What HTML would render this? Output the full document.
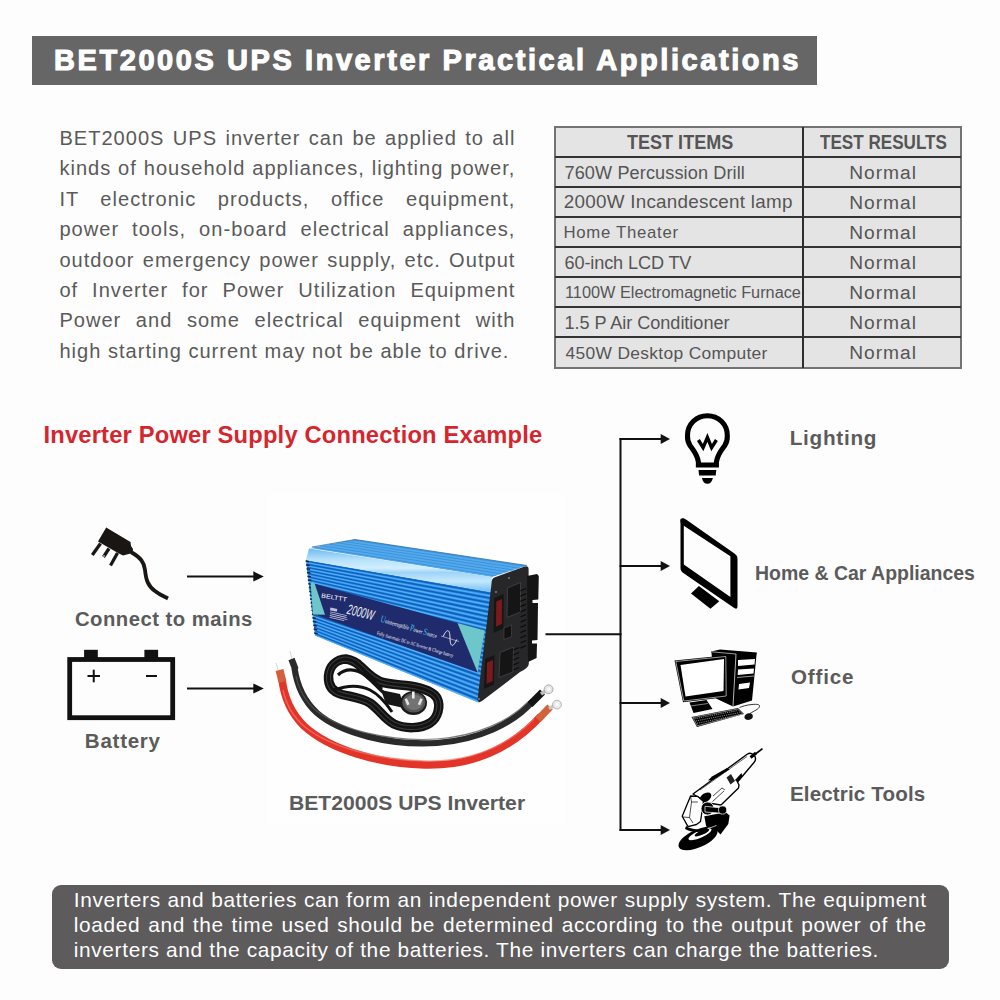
<!DOCTYPE html>
<html><head><meta charset="utf-8"><style>
html,body{margin:0;padding:0;}
body{width:1000px;height:1000px;position:relative;overflow:hidden;background:#fdfdfd;font-family:"Liberation Sans", sans-serif;}
.t{position:absolute;white-space:nowrap;line-height:1;}
.j{position:absolute;white-space:nowrap;line-height:1;text-align:justify;}
svg{position:absolute;left:0;top:0;}
</style></head><body>
<svg width="1000" height="1000" viewBox="0 0 1000 1000">
<rect x="266" y="494" width="300" height="330" fill="#fefefe"/>
<line x1="187" y1="576.4" x2="254.3" y2="576.4" stroke="#111" stroke-width="2"/><polygon points="253.3,571.3 263.8,576.4 253.3,581.5" fill="#111"/>
<line x1="187" y1="688.5" x2="254.3" y2="688.5" stroke="#111" stroke-width="2"/><polygon points="253.3,683.4 263.8,688.5 253.3,693.6" fill="#111"/>
<line x1="545.5" y1="634.3" x2="621.5" y2="634.3" stroke="#111" stroke-width="2"/>
<line x1="620.5" y1="438.1" x2="620.5" y2="831" stroke="#111" stroke-width="2"/>
<line x1="619.5" y1="439.1" x2="661.7" y2="439.1" stroke="#111" stroke-width="2"/><polygon points="660.7,434.1 670,439.1 660.7,444.1" fill="#111"/>
<line x1="619.5" y1="566.0" x2="661.7" y2="566.0" stroke="#111" stroke-width="2"/><polygon points="660.7,561.0 670,566.0 660.7,571.0" fill="#111"/>
<line x1="619.5" y1="703.1" x2="661.7" y2="703.1" stroke="#111" stroke-width="2"/><polygon points="660.7,698.1 670,703.1 660.7,708.1" fill="#111"/>
<line x1="619.5" y1="830.0" x2="661.7" y2="830.0" stroke="#111" stroke-width="2"/><polygon points="660.7,825.0 670,830.0 660.7,835.0" fill="#111"/>
<g fill="#1a1614"><polygon points="106.2,527.5 130.5,542 131,546 133,549 132.5,553 123,555.5 118,553 98,541.5"/></g><g stroke="#1a1614" stroke-width="3.3" stroke-linecap="butt" fill="none"><line x1="100.5" y1="543.5" x2="92.3" y2="555"/><line x1="109" y1="548.5" x2="103.5" y2="557"/><line x1="117.5" y1="553" x2="110.5" y2="565.5"/></g><path d="M131,552 C141,558 144,562 145,570 C146,580 148,586 155,591 C160,595 163,596 168,598.5" stroke="#1a1614" stroke-width="3.8" fill="none"/><circle cx="104" cy="556" r="0.8" fill="#fff"/>
<g fill="#111"><rect x="84.1" y="649.8" width="13.7" height="9"/><rect x="144.4" y="649.8" width="13.7" height="9"/></g><rect x="69.7" y="659.5" width="103" height="58.2" fill="none" stroke="#111" stroke-width="4.8"/><g stroke="#111" stroke-width="2"><line x1="87.5" y1="676" x2="100" y2="676"/><line x1="93.75" y1="669.7" x2="93.75" y2="682.3"/><line x1="146" y1="676" x2="157" y2="676"/></g>
<g fill="none" stroke="#000" stroke-width="5.1"><path d="M698.4,465 L698.4,462 C697.5,455 694,451 690,445.5 C687,441 687.5,436 687.5,435.5 C687.5,424 696.5,415.7 707.4,415.7 C718.3,415.7 727.3,424 727.3,435.5 C727.3,436 727.8,441 724.8,445.5 C720.8,451 717.3,455 716.4,462 L716.4,465 Z"/></g><path d="M698.4,440 L703.1,447.6 L707.4,437.5 L711.6,447.6 L716.4,440" fill="none" stroke="#000" stroke-width="3.4" stroke-linejoin="miter"/><polygon points="698.5,470 716.3,470 715.7,475.5 699.1,475.5" fill="#000"/><path d="M701.9,478 L712.9,478 C712,482 710,483.8 707.4,483.8 C704.8,483.8 702.8,482 701.9,478 Z" fill="#000"/>
<path fill-rule="evenodd" fill="#000" d="M681.5,518.4 C679.5,519 680.5,522 680.5,524 L680.5,568 C680.5,571 682,572 684,573.5 L733.5,607.5 C735.5,609 737.5,609.5 737.5,606 L737.5,559 C737.5,556 736.5,555 733,552.5 L686,519.5 C684,518.2 683,518 681.5,518.4 Z M683.8,525.7 L730.4,556.2 L730.4,597.1 L683.8,564.6 Z"/><polygon points="691,593.5 698.9,586.1 719.3,601.3 710.4,608.7" fill="#000"/>
<defs><linearGradient id="band" x1="0" y1="0" x2="0" y2="1"><stop offset="0" stop-color="#6db9f2"/><stop offset="0.25" stop-color="#b5e0fb"/><stop offset="0.45" stop-color="#d2efff"/><stop offset="0.55" stop-color="#9fd3f7"/><stop offset="0.75" stop-color="#c4e8fd"/><stop offset="1" stop-color="#72bdf3"/></linearGradient></defs>
<polygon points="310.0,548.0 355.0,539.5 527.0,565.5 492.0,577.0" fill="#55aaeb"/>
<polygon points="353.5,539.8 525.8,565.9 523.8,566.6 350.9,540.3" fill="#3b92de"/>
<polygon points="346.0,541.2 520.0,567.8 518.0,568.5 343.4,541.7" fill="#3b92de"/>
<polygon points="338.5,542.6 514.2,569.7 512.1,570.4 335.9,543.1" fill="#3b92de"/>
<polygon points="331.0,544.0 508.3,571.6 506.3,572.3 328.4,544.5" fill="#3b92de"/>
<polygon points="323.5,545.5 502.5,573.5 500.5,574.2 320.9,545.9" fill="#3b92de"/>
<polygon points="316.0,546.9 496.7,575.5 494.6,576.1 313.4,547.4" fill="#3b92de"/>
<polyline points="312.0,547.0 355.0,539.5 527.0,565.5" fill="none" stroke="#1b5d9e" stroke-width="0.7"/>
<polygon points="306.0,560.0 491.0,592.0 478.5,702.5 315.0,635.5" fill="#2e93ea"/>
<polygon points="306.1,560.5 490.9,592.7 490.7,594.5 306.2,561.7" fill="#1060bd"/>
<polygon points="306.3,562.3 490.6,595.4 490.5,596.5 306.4,563.1" fill="#5db4f5"/>
<polygon points="306.4,563.6 490.4,597.3 490.2,599.1 306.6,564.9" fill="#1060bd"/>
<polygon points="306.6,565.4 490.1,600.0 490.0,601.1 306.7,566.2" fill="#5db4f5"/>
<polygon points="306.8,566.8 489.9,601.9 489.7,603.7 307.0,568.0" fill="#1060bd"/>
<polygon points="307.0,568.6 489.6,604.6 489.5,605.7 307.1,569.3" fill="#5db4f5"/>
<polygon points="307.2,569.9 489.4,606.5 489.2,608.3 307.3,571.2" fill="#1060bd"/>
<polygon points="307.4,571.7 489.1,609.2 488.9,610.3 307.5,572.5" fill="#5db4f5"/>
<polygon points="307.6,573.1 488.8,611.1 488.6,612.9 307.7,574.3" fill="#1060bd"/>
<polygon points="307.8,574.9 488.5,613.8 488.4,614.9 307.9,575.6" fill="#5db4f5"/>
<polygon points="307.9,576.2 488.3,615.7 488.1,617.6 308.1,577.5" fill="#1060bd"/>
<polygon points="308.1,578.0 488.0,618.4 487.9,619.5 308.2,578.8" fill="#5db4f5"/>
<polygon points="308.3,579.3 487.8,620.3 487.6,622.2 308.5,580.6" fill="#1060bd"/>
<polygon points="308.5,581.2 487.5,623.0 487.4,624.1 308.6,581.9" fill="#5db4f5"/>
<polygon points="308.7,582.5 487.3,624.9 487.1,626.8 308.8,583.8" fill="#1060bd"/>
<polygon points="308.9,584.3 487.0,627.6 486.8,628.7 309.0,585.1" fill="#5db4f5"/>
<polygon points="309.1,585.6 486.8,629.5 486.5,631.4 309.2,586.9" fill="#1060bd"/>
<polygon points="309.3,587.5 486.5,632.2 486.3,633.3 309.4,588.2" fill="#5db4f5"/>
<polygon points="309.4,588.8 486.2,634.1 486.0,636.0 309.6,590.0" fill="#1060bd"/>
<polygon points="309.6,590.6 485.9,636.8 485.8,637.9 309.7,591.4" fill="#5db4f5"/>
<polygon points="309.8,591.9 485.7,638.7 485.5,640.6 310.0,593.2" fill="#1060bd"/>
<polygon points="310.0,593.8 485.4,641.4 485.3,642.5 310.1,594.5" fill="#5db4f5"/>
<polygon points="310.2,595.1 485.2,643.3 485.0,645.2 310.3,596.3" fill="#1060bd"/>
<polygon points="310.4,596.9 484.9,646.0 484.8,647.1 310.5,597.7" fill="#5db4f5"/>
<polygon points="310.6,598.2 484.7,647.9 484.5,649.8 310.7,599.5" fill="#1060bd"/>
<polygon points="310.8,600.0 484.4,650.6 484.2,651.7 310.9,600.8" fill="#5db4f5"/>
<polygon points="310.9,601.4 484.2,652.5 483.9,654.4 311.1,602.6" fill="#1060bd"/>
<polygon points="311.1,603.2 483.8,655.2 483.7,656.3 311.2,603.9" fill="#5db4f5"/>
<polygon points="311.3,604.5 483.6,657.1 483.4,659.0 311.5,605.8" fill="#1060bd"/>
<polygon points="311.5,606.3 483.3,659.8 483.2,660.9 311.6,607.1" fill="#5db4f5"/>
<polygon points="311.7,607.7 483.1,661.8 482.9,663.6 311.8,608.9" fill="#1060bd"/>
<polygon points="311.9,609.5 482.8,664.4 482.7,665.5 312.0,610.2" fill="#5db4f5"/>
<polygon points="312.1,610.8 482.6,666.4 482.4,668.2 312.2,612.1" fill="#1060bd"/>
<polygon points="312.3,612.6 482.3,669.0 482.2,670.1 312.4,613.4" fill="#5db4f5"/>
<polygon points="312.4,614.0 482.1,671.0 481.9,672.8 312.6,615.2" fill="#1060bd"/>
<polygon points="312.6,615.8 481.8,673.6 481.6,674.7 312.7,616.5" fill="#5db4f5"/>
<polygon points="312.8,617.1 481.5,675.6 481.3,677.4 313.0,618.4" fill="#1060bd"/>
<polygon points="313.0,618.9 481.2,678.2 481.1,679.3 313.1,619.7" fill="#5db4f5"/>
<polygon points="313.2,620.2 481.0,680.2 480.8,682.0 313.3,621.5" fill="#1060bd"/>
<polygon points="313.4,622.1 480.7,682.8 480.6,683.9 313.5,622.8" fill="#5db4f5"/>
<polygon points="313.6,623.4 480.5,684.8 480.3,686.6 313.7,624.6" fill="#1060bd"/>
<polygon points="313.8,625.2 480.2,687.4 480.1,688.5 313.9,626.0" fill="#5db4f5"/>
<polygon points="313.9,626.5 480.0,689.4 479.8,691.2 314.1,627.8" fill="#1060bd"/>
<polygon points="314.1,628.4 479.7,692.0 479.6,693.2 314.2,629.1" fill="#5db4f5"/>
<polygon points="314.3,629.7 479.5,694.0 479.3,695.8 314.5,630.9" fill="#1060bd"/>
<polygon points="314.5,631.5 479.2,696.7 479.0,697.8 314.6,632.3" fill="#5db4f5"/>
<polygon points="314.7,632.8 478.9,698.6 478.7,700.4 314.8,634.1" fill="#1060bd"/>
<polygon points="314.9,634.7 478.6,701.3 478.5,702.4 315.0,635.4" fill="#5db4f5"/>
<polygon points="309.0,548.5 492.0,577.0 491.0,592.0 306.0,560.0" fill="url(#band)"/>
<line x1="305.6" y1="561.1" x2="309.1" y2="561.7" stroke="#0b2650" stroke-width="1.5"/>
<line x1="306.1" y1="564.9" x2="309.6" y2="565.5" stroke="#0b2650" stroke-width="1.5"/>
<line x1="306.5" y1="568.7" x2="310.0" y2="569.3" stroke="#0b2650" stroke-width="1.5"/>
<line x1="307.0" y1="572.5" x2="310.5" y2="573.1" stroke="#0b2650" stroke-width="1.5"/>
<line x1="307.4" y1="576.2" x2="310.9" y2="576.8" stroke="#0b2650" stroke-width="1.5"/>
<line x1="307.9" y1="580.0" x2="311.4" y2="580.6" stroke="#0b2650" stroke-width="1.5"/>
<line x1="308.3" y1="583.8" x2="311.8" y2="584.4" stroke="#0b2650" stroke-width="1.5"/>
<line x1="308.8" y1="587.6" x2="312.3" y2="588.2" stroke="#0b2650" stroke-width="1.5"/>
<line x1="309.2" y1="591.3" x2="312.7" y2="591.9" stroke="#0b2650" stroke-width="1.5"/>
<line x1="309.7" y1="595.1" x2="313.2" y2="595.7" stroke="#0b2650" stroke-width="1.5"/>
<line x1="310.1" y1="598.9" x2="313.6" y2="599.5" stroke="#0b2650" stroke-width="1.5"/>
<line x1="310.6" y1="602.7" x2="314.1" y2="603.3" stroke="#0b2650" stroke-width="1.5"/>
<line x1="311.0" y1="606.4" x2="314.5" y2="607.0" stroke="#0b2650" stroke-width="1.5"/>
<line x1="311.5" y1="610.2" x2="315.0" y2="610.8" stroke="#0b2650" stroke-width="1.5"/>
<line x1="311.9" y1="614.0" x2="315.4" y2="614.6" stroke="#0b2650" stroke-width="1.5"/>
<line x1="312.4" y1="617.8" x2="315.9" y2="618.4" stroke="#0b2650" stroke-width="1.5"/>
<line x1="312.8" y1="621.5" x2="316.3" y2="622.1" stroke="#0b2650" stroke-width="1.5"/>
<line x1="313.3" y1="625.3" x2="316.8" y2="625.9" stroke="#0b2650" stroke-width="1.5"/>
<line x1="313.7" y1="629.1" x2="317.2" y2="629.7" stroke="#0b2650" stroke-width="1.5"/>
<line x1="314.2" y1="632.9" x2="317.7" y2="633.5" stroke="#0b2650" stroke-width="1.5"/>
<polygon points="311.0,582.8 484.5,630.5 477.6,672.5 314.5,614.5" fill="#1f2b6d"/>
<polygon points="310.6,582.6 314.5,582.9 325.0,614.8 313.0,614.6" fill="#6dc6ca"/>
<polygon points="457.5,623.0 484.8,630.6 477.6,672.6" fill="#6dc6ca"/>
<g fill="#fff" font-family="Liberation Sans"><text font-size="6.2" transform="translate(321,597.5) rotate(9) scale(1.15,1)">BELTTT</text><text font-size="14" font-style="italic" fill="#f0f0f0" transform="translate(346.3,613.5) rotate(14) scale(0.62,1)">2000W</text></g><g font-family="Liberation Serif" fill="#fff"><text font-size="6.3" transform="translate(380,621.5) rotate(16.5) scale(0.72,1)"><tspan fill="#3cc0e8" font-size="9.5">U</tspan>ninterruptible <tspan fill="#3cc0e8" font-size="9.5">P</tspan>ower <tspan fill="#3cc0e8" font-size="9.5">S</tspan>ource</text><text font-size="5.2" transform="translate(376.5,634.5) rotate(16.7) scale(0.72,1)">Fully Automatic DC to AC Inverter &amp; Charge battery</text></g><g fill="#dde" opacity="0.85"><rect width="7" height="2.8" transform="translate(330.5,607.5) rotate(12)"/><rect width="17" height="0.8" transform="translate(330.3,611.5) rotate(13)"/><rect width="17" height="0.8" transform="translate(330.1,613.3) rotate(13)"/><rect width="18" height="0.8" transform="translate(329.9,615.1) rotate(13)"/><rect width="15" height="0.8" transform="translate(329.7,616.9) rotate(13)"/></g>
<path d="M443,638 c2,-9 5,-9 7,0 c2,9 5,9 7,0" fill="none" stroke="#fff" stroke-width="0.8" transform="rotate(12 450 638)"/>
<line x1="441" y1="636" x2="459" y2="641.5" stroke="#fff" stroke-width="0.5"/>
<path d="M491.5,583 Q491.5,578.5 495,577.3 L524,566.8 Q528.5,565 528.6,569 L528.8,664 Q528.5,668 520,672 L482,701 Q477.5,704 477.6,699 L491,588 Z" fill="#27272a"/>
<polygon points="527.0,576.0 537.0,574.0 538.8,576.0 538.3,599.5 532.5,600.0 532.5,603.0 538.0,603.0 537.5,640.0 532.0,640.5 532.0,643.5 537.0,643.5 536.6,658.0 528.0,662.0" fill="#141414"/>
<polygon points="507.5,588.0 520.5,582.5 520.5,612.0 507.0,617.5" fill="#151515" stroke="#4a4a4a" stroke-width="0.7"/>
<polygon points="500.0,652.5 513.5,647.0 513.0,672.0 499.0,677.5" fill="#151515" stroke="#4a4a4a" stroke-width="0.7"/>
<polygon points="494.2,598.0 503.7,594.0 503.4,628.5 493.6,633.0" fill="#161616"/>
<polygon points="496.3,601.5 502.0,599.0 501.8,624.0 496.0,626.5" fill="#7a1a1c"/>
<polygon points="485.0,659.0 494.5,655.0 494.0,684.5 484.0,689.0" fill="#161616"/>
<polygon points="487.0,662.5 493.0,660.0 492.6,681.0 486.6,683.7" fill="#7a1a1c"/>
<polygon points="504.0,628.0 511.5,625.0 511.5,636.5 504.0,639.5" fill="#111" stroke="#555" stroke-width="0.5"/>
<line x1="520.5" y1="591.0" x2="526" y2="588.5" stroke="#0c0c0c" stroke-width="1.3"/>
<line x1="520.5" y1="596.2" x2="526" y2="593.7" stroke="#0c0c0c" stroke-width="1.3"/>
<line x1="520.5" y1="601.4" x2="526" y2="598.9" stroke="#0c0c0c" stroke-width="1.3"/>
<line x1="520.5" y1="606.6" x2="526" y2="604.1" stroke="#0c0c0c" stroke-width="1.3"/>
<line x1="520.5" y1="611.8" x2="526" y2="609.3" stroke="#0c0c0c" stroke-width="1.3"/>
<line x1="520.5" y1="617.0" x2="526" y2="614.5" stroke="#0c0c0c" stroke-width="1.3"/>
<line x1="520.5" y1="622.2" x2="526" y2="619.7" stroke="#0c0c0c" stroke-width="1.3"/>
<line x1="520.5" y1="627.4" x2="526" y2="624.9" stroke="#0c0c0c" stroke-width="1.3"/>
<line x1="520.5" y1="632.6" x2="526" y2="630.1" stroke="#0c0c0c" stroke-width="1.3"/>
<line x1="520.5" y1="637.8" x2="526" y2="635.3" stroke="#0c0c0c" stroke-width="1.3"/>
<line x1="520.5" y1="643.0" x2="526" y2="640.5" stroke="#0c0c0c" stroke-width="1.3"/>
<line x1="520.5" y1="648.2" x2="526" y2="645.7" stroke="#0c0c0c" stroke-width="1.3"/>
<line x1="513.5" y1="650.0" x2="519" y2="647.5" stroke="#0c0c0c" stroke-width="1.3"/>
<line x1="513.5" y1="655.0" x2="519" y2="652.5" stroke="#0c0c0c" stroke-width="1.3"/>
<line x1="513.5" y1="660.0" x2="519" y2="657.5" stroke="#0c0c0c" stroke-width="1.3"/>
<line x1="513.5" y1="665.0" x2="519" y2="662.5" stroke="#0c0c0c" stroke-width="1.3"/>
<line x1="513.5" y1="670.0" x2="519" y2="667.5" stroke="#0c0c0c" stroke-width="1.3"/>
<circle cx="496" cy="592" r="0.9" fill="#888"/>
<circle cx="479" cy="699" r="0.9" fill="#888"/>
<circle cx="509" cy="578" r="0.9" fill="#888"/>
<path d="M346,659 C352,660 356,662 360,666 C366,671 370,677 380,681.5 C390,685 400,684.5 410,686 C420,687.5 432,690 437,698 C441,706 438,718 430,723 C421,729 405,729 394,724 C384,719 379,709 370,703 C362,698 352,697 342,694.5 C333,692 328,686 328.5,676 C329.5,666 336,659.5 346,659 Z" fill="none" stroke="#121212" stroke-width="9.5" stroke-linejoin="round"/>
<path d="M346,659 C352,660 356,662 360,666 C366,671 370,677 380,681.5 C390,685 400,684.5 410,686 C420,687.5 432,690 437,698 C441,706 438,718 430,723 C421,729 405,729 394,724 C384,719 379,709 370,703 C362,698 352,697 342,694.5 C333,692 328,686 328.5,676 C329.5,666 336,659.5 346,659 Z" fill="none" stroke="#3a3a3a" stroke-width="5" stroke-linejoin="round"/>
<path d="M346,659 C352,660 356,662 360,666 C366,671 370,677 380,681.5 C390,685 400,684.5 410,686 C420,687.5 432,690 437,698 C441,706 438,718 430,723 C421,729 405,729 394,724 C384,719 379,709 370,703 C362,698 352,697 342,694.5 C333,692 328,686 328.5,676 C329.5,666 336,659.5 346,659 Z" fill="none" stroke="#121212" stroke-width="2.8" stroke-linejoin="round"/>
<path d="M338,675 C345,668 356,668 366,676 C373,682 378,688 384,693" fill="none" stroke="#121212" stroke-width="3.2"/>
<path d="M334,690 C345,686 358,684 370,690 C380,695 386,703 392,712" fill="none" stroke="#121212" stroke-width="3"/>
<path d="M355,662 C365,670 372,680 382,689" fill="none" stroke="#121212" stroke-width="3"/>
<path d="M381,690 L400,694 L404,708 L386,704 Z" fill="#161616"/>
<ellipse cx="413.5" cy="703" rx="13.5" ry="12" fill="#1a1a1a"/><ellipse cx="413.8" cy="702.6" rx="11.5" ry="10" fill="#555"/><ellipse cx="414" cy="702.3" rx="9.2" ry="7.8" fill="#737373"/><rect x="412" y="691.5" width="2.6" height="7" rx="0.5" fill="#efefef"/><rect x="405.8" y="698.5" width="2.5" height="6.5" fill="#e4e4e4" transform="rotate(-25 407 701.7)"/><rect x="419" y="698.5" width="2.5" height="6.5" fill="#e4e4e4" transform="rotate(25 420.2 701.7)"/>
<path d="M294.5,668 C297,686 304,701 317,713 C340,733 390,746 437,743 C478,740 513,724 533,701" fill="none" stroke="#2a2a2a" stroke-width="6.2" stroke-linecap="butt"/>
<path d="M296,676 C299,690 305,702 318,712 C342,730 390,742 437,739 C476,736 508,722 528,702" fill="none" stroke="#5a5a5a" stroke-width="1.1" opacity="0.8"/>
<path d="M291.5,659 L295.5,669.5" stroke="#2a2a2a" stroke-width="6.5"/>
<path d="M290,651 L292,659" stroke="#ccc" stroke-width="0.8"/>
<path d="M530,704.5 L542.5,692" stroke="#131313" stroke-width="7"/>
<path d="M541,694 L545.5,691" stroke="#bfbfbf" stroke-width="3.6"/>
<circle cx="548.6" cy="689.3" r="4.4" fill="#e6e6e6" stroke="#9a9a9a" stroke-width="0.8"/><circle cx="548.8" cy="689.1" r="1.6" fill="#fcfcfc"/>
<path d="M282,679 C284,697 290,712 304,726 C330,750 380,764 425,765 C470,766 510,750 541,716" fill="none" stroke="#e3342a" stroke-width="7.5" stroke-linecap="butt"/>
<path d="M283,690 C286,704 292,716 305,727 C331,748 380,760 425,761 C468,762 505,748 534,719" fill="none" stroke="#f37a6e" stroke-width="1.3" opacity="0.7"/>
<path d="M279.5,670 L282.5,682" stroke="#d45f3e" stroke-width="8"/>
<path d="M276,663 L278,670" stroke="#ccc" stroke-width="0.8"/>
<path d="M538,719.5 L550,707" stroke="#d2623a" stroke-width="7.5"/>
<path d="M549,708.5 L554,706" stroke="#c8c8c8" stroke-width="3.6"/>
<circle cx="557" cy="704.6" r="4.4" fill="#ececec" stroke="#a5a5a5" stroke-width="0.8"/><circle cx="557.2" cy="704.4" r="1.6" fill="#fcfcfc"/>
<g><polygon points="711,651.5 720,649.5 757,652.5 756.5,655 752,700.5 733,706.5 716,698.5 711.5,653" fill="#000"/><line x1="736" y1="654" x2="733" y2="706.5" stroke="#fff" stroke-width="0.7"/><line x1="711.5" y1="651.8" x2="736" y2="654" stroke="#fff" stroke-width="0.6"/><polygon points="738,660 755,659 754.5,664.5 738,666" fill="#fff"/><polygon points="738,669.5 754,668.5 753.5,673.5 737.7,675" fill="#fff"/><polygon points="739,684 750,682.5 749,688 738.5,689.5" fill="#fff"/><line x1="737" y1="677.5" x2="754" y2="676" stroke="#fff" stroke-width="0.6"/><polygon points="674.5,660.5 726.5,655.3 727,697 683,702.3" fill="#000"/><polygon points="675.8,661.5 725.8,656.5 726.2,696 683.8,701" fill="none" stroke="#fff" stroke-width="0.6"/><polygon points="680.5,665 724,659 723.5,691 685.5,696.5" fill="#fff"/><polygon points="689.5,702.5 706.5,700 712.5,709 693.5,713" fill="#000"/><line x1="690.5" y1="706" x2="708" y2="703.5" stroke="#fff" stroke-width="0.5"/><polygon points="691.5,717 738,708 744,714 697,727" fill="#000"/><polygon points="692.8,717.6 737.6,709 742.6,714 697.4,725.8" fill="none" stroke="#fff" stroke-width="0.5"/><g stroke="#9a9a9a" stroke-width="0.9" stroke-dasharray="1.2 1"><line x1="694.5" y1="718.8" x2="737.5" y2="710.6"/><line x1="695.8" y1="721" x2="739.6" y2="712.6"/><line x1="697" y1="723.3" x2="741" y2="714.4"/></g><path d="M744.5,718 C744,715 747,713 750,713.2 C753,713.5 753.5,716.5 752,718.5 C750,720.5 745.5,720.5 744.5,718 Z" fill="#111"/><path d="M750,713.5 C754,711 759,709 759.5,706.5 C760,704.5 757,704 752,704.5 C746,705 742,706.5 739.5,707.5" fill="none" stroke="#000" stroke-width="0.8"/></g>
<g stroke-linejoin="round"><ellipse cx="698" cy="838.5" rx="21" ry="8.8" transform="rotate(-24 698 838.5)" fill="#000"/><ellipse cx="700" cy="834.2" rx="12.5" ry="3.6" transform="rotate(-24 700 834.2)" fill="#fff"/><ellipse cx="702" cy="832.6" rx="8" ry="2.2" transform="rotate(-24 702 832.6)" fill="#000"/><path d="M704.3,816.2 L725.7,812.3 L729.6,815.6 L728.3,824 L720.5,834.4 L716.6,830.5 L706.2,826.6 Z" fill="#000"/><path d="M689,829 C697,831 708,829 716.5,825.5" fill="none" stroke="#fff" stroke-width="0.7"/><path d="M693,794 L747.5,754 C750,752.5 753.5,753.5 755,756.5 C756,759 755.5,761 754,762.5 L737.5,782 L739,785 L738.5,788 L721,805 L708,803 Z" fill="#fff" stroke="#000" stroke-width="1.4"/><path d="M700,790 L747,756.5" fill="none" stroke="#000" stroke-width="0.6"/><path d="M708,780.5 L712,776.5 L727,768 L729.5,769.5 L713,780 Z" fill="#000"/><path d="M735,780 L741.5,773 L742.5,776.5 L737.5,782.5 Z" fill="#000"/><path d="M726.5,777.5 L731,774 L735,781 L730.5,784.5 Z" fill="#222"/><path d="M713,796 L722,788 L725,790 M712.5,801.5 L724,791" fill="none" stroke="#000" stroke-width="0.7"/><ellipse cx="705.5" cy="797.5" rx="6.5" ry="4.2" transform="rotate(-35 705.5 797.5)" fill="#000"/><path d="M682.2,816.2 L690.6,796 L697.8,796.4 L703.5,801.5 L700.5,821.5 L696.5,824.5 L688,826.6 Z" fill="#fff" stroke="#000" stroke-width="1.3"/><path d="M690.6,796 L691.5,802 L697.8,802 M691.5,802 L689.5,817.5 L683,817 M689.5,817.5 L693,823" fill="none" stroke="#000" stroke-width="0.7"/><path d="M686,826 C692,830 700,830 707,827 L708,830 C700,833 691,832.5 685,829 Z" fill="#000"/><circle cx="707.5" cy="808.5" r="6.5" fill="#000" stroke="#fff" stroke-width="0.8"/><path d="M705,806.3 L722,808 L721.5,813.2 L705,812 Z" fill="#000" stroke="#fff" stroke-width="0.7"/><circle cx="722.6" cy="810" r="4.1" fill="#000" stroke="#fff" stroke-width="0.7"/><path d="M751.5,757 L762.5,748.6" stroke="#000" stroke-width="1.8"/><path d="M750.5,757.5 L756,753" stroke="#000" stroke-width="3"/></g>
</svg>

<div style="position:absolute;left:32px;top:36px;width:785px;height:49px;background:#666666"></div>
<div class="t" style="left:54.00px;top:46.05px;font-size:29.00px;color:#fff;font-weight:bold;letter-spacing:2.57px;-webkit-text-stroke:1.1px #fff;">BET2000S UPS Inverter Practical Applications</div>
<div class="j" style="left:59.40px;top:128.01px;width:456px;font-size:20.07px;color:#5a5a5a;letter-spacing:1.01px;text-align-last:justify">BET2000S UPS inverter can be applied to all</div>
<div class="j" style="left:59.40px;top:158.40px;width:456px;font-size:20.07px;color:#5a5a5a;letter-spacing:1.01px;text-align-last:justify">kinds of household appliances, lighting power,</div>
<div class="j" style="left:59.40px;top:188.79px;width:456px;font-size:20.07px;color:#5a5a5a;letter-spacing:1.01px;text-align-last:justify">IT electronic products, office equipment,</div>
<div class="j" style="left:59.40px;top:219.18px;width:456px;font-size:20.07px;color:#5a5a5a;letter-spacing:1.01px;text-align-last:justify">power tools, on-board electrical appliances,</div>
<div class="j" style="left:59.40px;top:249.57px;width:456px;font-size:20.07px;color:#5a5a5a;letter-spacing:1.01px;text-align-last:justify">outdoor emergency power supply, etc. Output</div>
<div class="j" style="left:59.40px;top:279.96px;width:456px;font-size:20.07px;color:#5a5a5a;letter-spacing:1.01px;text-align-last:justify">of Inverter for Power Utilization Equipment</div>
<div class="j" style="left:59.40px;top:310.35px;width:456px;font-size:20.07px;color:#5a5a5a;letter-spacing:1.01px;text-align-last:justify">Power and some electrical equipment with</div>
<div class="j" style="left:59.40px;top:340.74px;width:456px;font-size:20.07px;color:#5a5a5a;letter-spacing:1.01px;text-align-last:left">high starting current may not be able to drive.</div>
<div style="position:absolute;left:554px;top:126px;width:408px;height:243px;background:#e4e4e4;box-sizing:border-box;border:2px solid #737373"></div>
<div style="position:absolute;left:555px;top:156.20px;width:406px;height:2px;background:#333"></div>
<div style="position:absolute;left:555px;top:186.23px;width:406px;height:2px;background:#333"></div>
<div style="position:absolute;left:555px;top:216.26px;width:406px;height:2px;background:#333"></div>
<div style="position:absolute;left:555px;top:246.29px;width:406px;height:2px;background:#333"></div>
<div style="position:absolute;left:555px;top:276.32px;width:406px;height:2px;background:#333"></div>
<div style="position:absolute;left:555px;top:306.35px;width:406px;height:2px;background:#333"></div>
<div style="position:absolute;left:555px;top:336.38px;width:406px;height:2px;background:#333"></div>
<div style="position:absolute;left:802.3px;top:127px;width:2px;height:241px;background:#2e2e2e"></div>
<div class="t" style="left:626.80px;top:132.93px;font-size:19.57px;color:#555;font-weight:bold;letter-spacing:0.00px;transform:scaleX(0.9222);transform-origin:0 0;">TEST ITEMS</div>
<div class="t" style="left:819.50px;top:132.93px;font-size:19.57px;color:#555;font-weight:bold;letter-spacing:0.00px;transform:scaleX(0.8738);transform-origin:0 0;">TEST RESULTS</div>
<div class="t" style="left:564.50px;top:163.91px;font-size:18.12px;color:#555;font-weight:normal;letter-spacing:0.11px;">760W Percussion Drill</div>
<div class="t" style="left:563.75px;top:193.05px;font-size:18.84px;color:#555;font-weight:normal;letter-spacing:0.26px;">2000W Incandescent lamp</div>
<div class="t" style="left:563.50px;top:225.08px;font-size:16.74px;color:#555;font-weight:normal;letter-spacing:0.72px;">Home Theater</div>
<div class="t" style="left:564.50px;top:254.01px;font-size:18.12px;color:#555;font-weight:normal;letter-spacing:-0.12px;">60-inch LCD TV</div>
<div class="t" style="left:564.54px;top:283.58px;font-size:17.03px;color:#555;font-weight:normal;letter-spacing:0.00px;transform:scaleX(0.9569);transform-origin:0 0;">1100W Electromagnetic Furnace</div>
<div class="t" style="left:564.50px;top:314.01px;font-size:18.12px;color:#555;font-weight:normal;letter-spacing:-0.04px;">1.5 P Air Conditioner</div>
<div class="t" style="left:565.50px;top:344.78px;font-size:17.39px;color:#555;font-weight:normal;letter-spacing:0.34px;">450W Desktop Computer</div>
<div class="t" style="left:849.30px;top:163.24px;font-size:19.20px;color:#555;font-weight:normal;letter-spacing:0.97px;">Normal</div>
<div class="t" style="left:849.30px;top:193.24px;font-size:19.20px;color:#555;font-weight:normal;letter-spacing:0.97px;">Normal</div>
<div class="t" style="left:849.30px;top:223.24px;font-size:19.20px;color:#555;font-weight:normal;letter-spacing:0.97px;">Normal</div>
<div class="t" style="left:849.30px;top:253.24px;font-size:19.20px;color:#555;font-weight:normal;letter-spacing:0.97px;">Normal</div>
<div class="t" style="left:849.30px;top:283.24px;font-size:19.20px;color:#555;font-weight:normal;letter-spacing:0.97px;">Normal</div>
<div class="t" style="left:849.30px;top:313.24px;font-size:19.20px;color:#555;font-weight:normal;letter-spacing:0.97px;">Normal</div>
<div class="t" style="left:849.30px;top:343.24px;font-size:19.20px;color:#555;font-weight:normal;letter-spacing:0.97px;">Normal</div>
<div class="t" style="left:43.50px;top:423.93px;font-size:23.71px;color:#d6262d;font-weight:bold;letter-spacing:0.19px;">Inverter Power Supply Connection Example</div>
<div class="t" style="left:74.90px;top:608.83px;font-size:20.29px;color:#5b5b5b;font-weight:bold;letter-spacing:0.49px;">Connect to mains</div>
<div class="t" style="left:84.85px;top:731.09px;font-size:20.57px;color:#5b5b5b;font-weight:bold;letter-spacing:0.72px;">Battery</div>
<div class="t" style="left:288.90px;top:792.30px;font-size:21.14px;color:#5b5b5b;font-weight:bold;letter-spacing:0.01px;">BET2000S UPS Inverter</div>
<div class="t" style="left:789.75px;top:428.47px;font-size:20.71px;color:#5b5b5b;font-weight:bold;letter-spacing:0.72px;">Lighting</div>
<div class="t" style="left:754.81px;top:563.17px;font-size:20.71px;color:#5b5b5b;font-weight:bold;letter-spacing:0.00px;transform:scaleX(0.9402);transform-origin:0 0;">Home &amp; Car Appliances</div>
<div class="t" style="left:790.90px;top:666.59px;font-size:20.57px;color:#5b5b5b;font-weight:bold;letter-spacing:0.87px;">Office</div>
<div class="t" style="left:789.90px;top:784.19px;font-size:20.57px;color:#5b5b5b;font-weight:bold;letter-spacing:0.16px;">Electric Tools</div>
<div style="position:absolute;left:52px;top:885px;width:897px;height:84px;background:#5d5b5c;border-radius:9px"></div>
<div class="j" style="left:73.70px;top:890.23px;width:853px;font-size:20.87px;color:#fff;letter-spacing:0.66px;text-align-last:justify">Inverters and batteries can form an independent power supply system. The equipment</div>
<div class="j" style="left:73.70px;top:915.03px;width:853px;font-size:20.87px;color:#fff;letter-spacing:0.66px;text-align-last:justify">loaded and the time used should be determined according to the output power of the</div>
<div class="j" style="left:73.70px;top:939.83px;width:853px;font-size:20.87px;color:#fff;letter-spacing:0.66px;text-align-last:left">inverters and the capacity of the batteries. The inverters can charge the batteries.</div>

</body></html>
